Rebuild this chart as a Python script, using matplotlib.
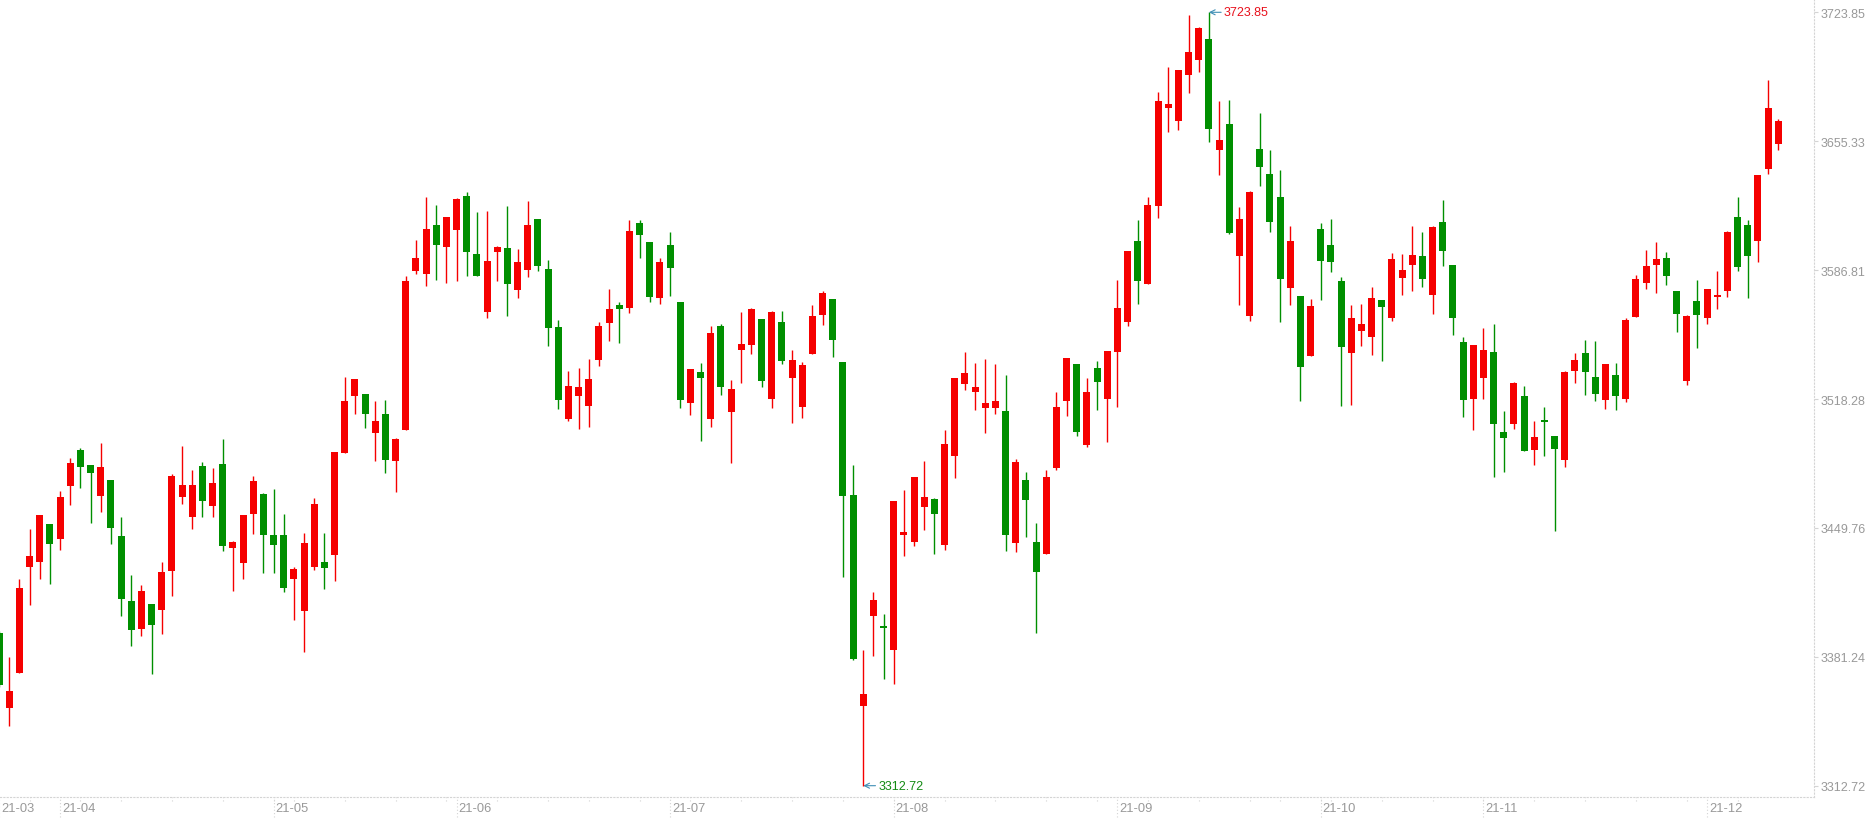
import numpy as np
import pandas as pd
import matplotlib
matplotlib.use('Agg')
import matplotlib.pyplot as plt
import matplotlib.transforms as mtransforms

plt.rcParams['font.family'] = ['Liberation Sans', 'DejaVu Sans']

# 交易日（剔除节假日）
holidays = ['2021-04-05', '2021-05-03', '2021-05-04', '2021-05-05', '2021-06-14',
            '2021-09-20', '2021-09-21', '2021-10-01', '2021-10-04', '2021-10-05',
            '2021-10-06', '2021-10-07']
dates = pd.bdate_range('2021-03-24', '2021-12-10')
dates = dates[~dates.isin(pd.to_datetime(holidays))]

# 日K数据 开/高/低/收
opens = [3393.9, 3354.2, 3372.6, 3429.1, 3431.8, 3451.8, 3444.0, 3472.2, 3491.2, 3483.2,
         3466.9, 3475.2, 3445.4, 3410.9, 3396.2, 3409.3, 3406.3, 3427.0, 3466.3, 3455.7,
         3482.6, 3461.6, 3483.7, 3439.1, 3431.1, 3457.2, 3467.8, 3446.0, 3446.0, 3422.6,
         3405.6, 3429.0, 3431.6, 3435.4, 3489.6, 3519.9, 3520.9, 3500.2, 3510.3, 3485.3,
         3501.8, 3586.3, 3584.7, 3610.8, 3599.1, 3608.1, 3626.2, 3595.4, 3564.5, 3596.4,
         3598.6, 3576.2, 3586.9, 3614.0, 3587.4, 3556.6, 3507.7, 3519.9, 3514.6, 3539.0,
         3558.7, 3568.3, 3566.7, 3611.9, 3601.7, 3572.0, 3600.1, 3569.8, 3516.2, 3532.6,
         3507.6, 3557.1, 3511.4, 3544.3, 3547.0, 3560.8, 3518.3, 3559.2, 3529.4, 3514.0,
         3542.2, 3562.9, 3571.4, 3538.0, 3467.3, 3355.2, 3403.1, 3397.6, 3385.0, 3446.2,
         3442.5, 3461.1, 3465.1, 3440.9, 3488.0, 3526.5, 3522.2, 3513.7, 3513.7, 3511.9,
         3441.9, 3475.2, 3442.3, 3435.9, 3481.6, 3517.2, 3536.9, 3493.8, 3534.8, 3518.3,
         3543.3, 3559.2, 3602.3, 3579.4, 3620.9, 3673.0, 3666.0, 3690.5, 3698.5, 3709.6,
         3650.6, 3664.4, 3594.3, 3562.4, 3651.2, 3637.9, 3625.6, 3577.3, 3573.0, 3541.1,
         3608.6, 3600.1, 3581.0, 3542.7, 3554.4, 3551.2, 3570.9, 3561.3, 3582.6, 3589.5,
         3594.3, 3573.6, 3612.4, 3589.5, 3548.6, 3518.3, 3529.4, 3543.3, 3500.7, 3505.0,
         3519.9, 3491.2, 3506.6, 3498.6, 3485.8, 3533.2, 3542.7, 3530.0, 3517.7, 3531.0,
         3518.3, 3561.9, 3579.9, 3589.5, 3593.2, 3575.7, 3527.8, 3570.4, 3561.3, 3572.5,
         3575.7, 3615.0, 3610.8, 3602.3, 3640.5, 3653.8]
highs = [3395.1, 3380.9, 3422.6, 3449.2, 3456.6, 3451.8, 3469.4, 3486.9, 3492.2, 3483.2,
         3494.9, 3475.2, 3455.5, 3424.7, 3419.4, 3409.3, 3431.6, 3478.4, 3493.3, 3480.5,
         3484.8, 3481.6, 3497.0, 3442.8, 3456.6, 3477.4, 3468.3, 3470.4, 3457.2, 3429.0,
         3447.1, 3465.7, 3447.1, 3490.1, 3530.0, 3528.9, 3520.9, 3517.2, 3517.8, 3497.6,
         3583.7, 3602.8, 3625.7, 3621.4, 3615.0, 3625.1, 3628.3, 3617.7, 3618.2, 3599.6,
         3620.9, 3598.0, 3623.5, 3614.0, 3592.2, 3560.3, 3533.2, 3534.8, 3539.6, 3559.2,
         3576.8, 3569.9, 3613.4, 3613.4, 3601.7, 3593.2, 3607.1, 3569.8, 3534.2, 3537.4,
         3557.1, 3558.1, 3528.4, 3564.5, 3566.7, 3560.8, 3565.1, 3565.1, 3544.3, 3537.9,
         3568.2, 3575.7, 3571.4, 3538.0, 3483.2, 3384.8, 3415.7, 3404.0, 3464.1, 3469.9,
         3476.8, 3485.3, 3465.7, 3501.8, 3529.5, 3543.3, 3537.4, 3539.6, 3536.9, 3531.1,
         3486.4, 3479.5, 3452.4, 3480.6, 3522.0, 3540.1, 3536.9, 3529.5, 3538.5, 3543.8,
         3581.5, 3596.9, 3613.4, 3625.6, 3681.5, 3694.8, 3693.2, 3722.4, 3716.0, 3723.85,
         3676.7, 3677.2, 3620.3, 3628.8, 3670.3, 3650.6, 3640.0, 3610.2, 3573.0, 3571.4,
         3611.8, 3613.9, 3583.1, 3568.2, 3568.8, 3577.8, 3570.9, 3595.9, 3595.4, 3610.2,
         3607.1, 3610.2, 3624.1, 3589.5, 3551.2, 3547.0, 3556.0, 3558.1, 3511.9, 3527.3,
         3525.2, 3506.6, 3514.0, 3498.6, 3533.2, 3542.7, 3549.6, 3549.1, 3536.9, 3537.4,
         3561.3, 3584.2, 3597.5, 3601.7, 3596.4, 3575.7, 3562.9, 3581.5, 3576.7, 3586.3,
         3607.6, 3625.7, 3613.4, 3637.3, 3687.9, 3667.1]
lows = [3365.0, 3344.3, 3372.6, 3408.9, 3422.8, 3420.1, 3438.2, 3462.1, 3471.1, 3452.5,
        3458.4, 3441.4, 3403.1, 3387.1, 3392.5, 3372.3, 3393.5, 3413.7, 3462.6, 3449.3,
        3455.7, 3455.7, 3437.6, 3416.4, 3422.8, 3446.5, 3425.8, 3425.8, 3415.7, 3400.8,
        3383.8, 3427.4, 3417.3, 3421.5, 3489.6, 3510.3, 3502.9, 3485.3, 3478.9, 3468.8,
        3501.8, 3584.7, 3578.4, 3581.5, 3580.0, 3581.0, 3583.7, 3583.7, 3561.3, 3581.0,
        3562.4, 3572.0, 3583.1, 3586.3, 3546.5, 3513.0, 3506.6, 3502.3, 3503.4, 3535.8,
        3549.1, 3548.1, 3564.0, 3593.2, 3569.8, 3568.8, 3573.0, 3513.5, 3509.8, 3496.0,
        3503.4, 3520.4, 3484.3, 3526.8, 3542.2, 3524.7, 3513.5, 3536.9, 3505.5, 3508.2,
        3542.2, 3557.6, 3540.6, 3423.7, 3379.6, 3312.72, 3381.9, 3369.5, 3366.8, 3434.8,
        3440.3, 3448.7, 3435.9, 3438.2, 3476.3, 3523.1, 3512.5, 3500.2, 3510.3, 3437.5,
        3437.0, 3444.9, 3393.9, 3435.9, 3480.6, 3509.3, 3498.6, 3492.8, 3512.5, 3495.4,
        3514.1, 3557.1, 3568.8, 3579.4, 3614.5, 3660.2, 3661.3, 3680.9, 3692.1, 3654.9,
        3637.3, 3606.0, 3568.2, 3559.7, 3631.5, 3607.0, 3559.2, 3568.2, 3517.2, 3541.1,
        3570.9, 3585.8, 3514.6, 3515.1, 3546.5, 3541.7, 3538.5, 3559.7, 3573.6, 3575.7,
        3577.8, 3563.5, 3589.0, 3552.3, 3508.7, 3501.8, 3518.3, 3476.8, 3479.5, 3502.3,
        3490.6, 3483.2, 3488.0, 3448.1, 3482.1, 3526.8, 3520.4, 3517.2, 3513.0, 3512.4,
        3516.7, 3561.9, 3576.7, 3574.6, 3578.9, 3553.9, 3525.7, 3545.4, 3558.1, 3566.1,
        3572.5, 3586.3, 3572.0, 3591.1, 3637.9, 3650.6]
closes = [3366.2, 3363.0, 3417.8, 3434.8, 3456.6, 3441.4, 3466.2, 3484.2, 3482.3, 3479.1,
          3482.1, 3449.9, 3412.1, 3395.6, 3416.2, 3398.3, 3426.3, 3477.3, 3472.5, 3472.5,
          3464.2, 3473.6, 3440.3, 3442.3, 3456.6, 3474.7, 3446.0, 3440.7, 3417.8, 3427.9,
          3441.7, 3462.5, 3428.4, 3490.1, 3517.2, 3528.9, 3510.3, 3506.6, 3485.9, 3497.0,
          3581.0, 3593.2, 3608.7, 3600.2, 3615.0, 3624.6, 3596.4, 3583.7, 3591.7, 3599.1,
          3579.4, 3591.1, 3610.8, 3589.0, 3556.0, 3517.8, 3525.2, 3524.7, 3528.9, 3557.1,
          3566.1, 3566.1, 3607.6, 3605.5, 3572.5, 3591.1, 3587.9, 3517.7, 3534.2, 3529.4,
          3553.4, 3524.7, 3523.6, 3547.5, 3566.1, 3527.8, 3564.5, 3538.5, 3539.0, 3536.4,
          3562.4, 3574.6, 3549.6, 3466.9, 3380.1, 3361.4, 3411.5, 3396.7, 3464.1, 3447.6,
          3476.8, 3466.2, 3457.2, 3494.4, 3529.5, 3532.1, 3524.7, 3516.2, 3517.2, 3446.0,
          3484.8, 3464.6, 3426.5, 3476.8, 3514.1, 3540.1, 3500.8, 3522.0, 3527.3, 3543.8,
          3566.6, 3596.9, 3581.0, 3621.4, 3676.7, 3675.1, 3693.2, 3702.7, 3715.5, 3661.8,
          3655.9, 3606.5, 3613.9, 3628.3, 3641.6, 3612.4, 3582.1, 3602.3, 3535.3, 3567.7,
          3591.6, 3591.1, 3545.9, 3561.3, 3558.1, 3572.0, 3567.2, 3592.7, 3586.9, 3594.8,
          3582.1, 3609.7, 3597.0, 3561.3, 3517.7, 3547.0, 3544.3, 3505.0, 3497.5, 3526.8,
          3490.6, 3498.1, 3506.2, 3491.7, 3532.6, 3539.0, 3532.6, 3520.9, 3536.9, 3519.9,
          3560.3, 3582.1, 3589.0, 3592.7, 3583.7, 3563.5, 3562.4, 3562.9, 3576.7, 3573.6,
          3607.0, 3588.4, 3594.3, 3637.3, 3673.0, 3666.1]

ytick_labels = ['3312.72', '3381.24', '3449.76', '3518.28', '3586.81', '3655.33', '3723.85']

RED = '#f50000'
GREEN = '#008f00'
GRID = '#d4d4d4'
LABEL = '#999999'

opens = np.array(opens)
highs = np.array(highs)
lows = np.array(lows)
closes = np.array(closes)
x = np.arange(len(dates))

W, H = 1871, 820
fig = plt.figure(figsize=(W / 100, H / 100), dpi=100)
ax = fig.add_axes([0, 21.7 / H, 1814 / W, 798.3 / H])

up = closes >= opens
colors = np.where(up, RED, GREEN)
ax.vlines(x, lows, highs, colors=colors, linewidth=1.0)
bottoms = np.minimum(opens, closes)
heights = np.maximum(np.abs(closes - opens), 0.9)
ax.bar(x, heights, bottom=bottoms, width=0.69, color=colors, linewidth=0)

# 坐标范围
ax.set_xlim(0.0826, 178.52)
ax.set_ylim(3306.55, 3730.92)

for s in ['left', 'top']:
    ax.spines[s].set_visible(False)
for s in ['bottom', 'right']:
    ax.spines[s].set_color(GRID)
    ax.spines[s].set_linestyle((0, (1, 2)))
    ax.spines[s].set_linewidth(0.8)

# y轴在右侧
ax.yaxis.tick_right()
ax.set_yticks([float(v) for v in ytick_labels])
ax.set_yticklabels(ytick_labels)
ax.tick_params(axis='y', length=3, width=0.8, color=GRID, pad=1.5,
               labelsize=9, labelcolor=LABEL)
ax.set_xticks([])

# 月份刻度与周刻度
month_idx = [i for i in range(len(dates)) if i == 0 or dates[i].month != dates[i - 1].month]
week_idx = [i for i in range(1, len(dates)) if dates[i].isocalendar()[1] != dates[i - 1].isocalendar()[1]]
xt = ax.get_xaxis_transform()
ax.vlines(week_idx, -4 / 798.3, 0, transform=xt, colors=GRID, linewidth=0.8,
          linestyles=(0, (1, 2)), clip_on=False)
ax.vlines(month_idx, -20 / 798.3, 0, transform=xt, colors=GRID, linewidth=0.8,
          linestyles=(0, (1, 2)), clip_on=False)
offset = mtransforms.ScaledTranslation(2 / 100, -10.4 / 100, fig.dpi_scale_trans)
for i in month_idx:
    ax.text(i, 0, dates[i].strftime('%y-%m'), transform=xt + offset,
            ha='left', va='center', fontsize=9.3, color=LABEL)

# 最高最低点标注
hi_i = int(np.argmax(highs))
lo_i = int(np.argmin(lows))
arrow = dict(arrowstyle='->', color='#3f8fb4', lw=0.8, shrinkA=0, shrinkB=0,
             mutation_scale=9)
ax.annotate('%.2f' % highs[hi_i], xy=(hi_i, highs[hi_i]), xytext=(15, 0),
            textcoords='offset pixels', ha='left', va='center', fontsize=9,
            color='#e8101c', arrowprops=arrow)
ax.annotate('%.2f' % lows[lo_i], xy=(lo_i, lows[lo_i]), xytext=(15, 0),
            textcoords='offset pixels', ha='left', va='center', fontsize=9,
            color='#138a13', arrowprops=arrow)

fig.savefig('out.png', dpi=100)
